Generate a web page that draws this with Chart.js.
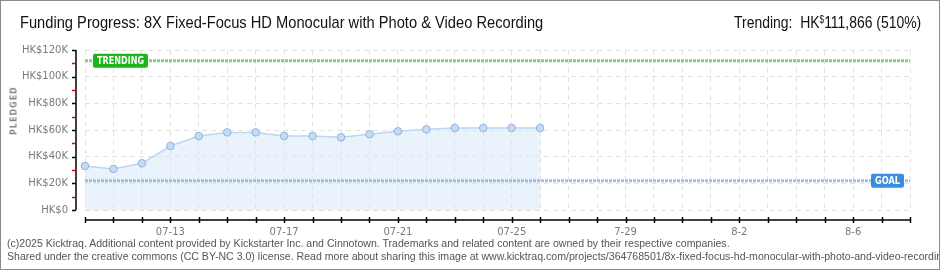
<!DOCTYPE html>
<html>
<head>
<meta charset="utf-8">
<script src="https://cdn.jsdelivr.net/npm/chart.js@4.4.1/dist/chart.umd.min.js"></script>
<style>
  html, body { margin: 0; padding: 0; background: #fff; }
  #wrap { position: relative; width: 940px; height: 270px; box-sizing: border-box; border: 1px solid #8a8a8a; overflow: hidden; }
  #chart { position: absolute; left: -1px; top: -1px; }
  .txt { position: absolute; white-space: nowrap; font-family: "Liberation Sans", sans-serif; }
  #title { left: 19px; top: 12px; font-size: 17px; color: #111; transform: scaleX(0.863); transform-origin: 0 50%; }
  #trend { right: 18px; top: 12px; font-size: 17px; color: #111; transform: scaleX(0.82); transform-origin: 100% 50%; }
  #trend sup { font-size: 10px; vertical-align: 5px; }
  #ylab { left: 4px; top: 125px; font-family: "DejaVu Sans", sans-serif; font-weight: bold; font-size: 8px; color: #888; letter-spacing: 1px; transform: translate(0, -50%) rotate(-90deg); transform-origin: 9px 50%; }
  .foot { left: 6px; font-size: 11px; color: #555; transform: scaleX(0.96); transform-origin: 0 50%; }
</style>
</head>
<body>
<div id="wrap">
  <canvas id="chart" width="940" height="270"></canvas>
  <div class="txt" id="title">Funding Progress: 8X Fixed-Focus HD Monocular with Photo &amp; Video Recording</div>
  <div class="txt" id="trend">Trending:&nbsp; HK<sup>$</sup>111,866 (510%)</div>
  <div class="txt" id="ylab">PLEDGED</div>
  <div class="txt foot" style="top:236px">(c)2025 Kicktraq. Additional content provided by Kickstarter Inc. and Cinnotown. Trademarks and related content are owned by their respective companies.</div>
  <div class="txt foot" style="top:249px">Shared under the creative commons (CC BY-NC 3.0) license. Read more about sharing this image at www.kicktraq.com/projects/364768501/8x-fixed-focus-hd-monocular-with-photo-and-video-recording/</div>
</div>
<script>
// --- data ---
const days = ["07-10","07-11","07-12","07-13","07-14","07-15","07-16","07-17","07-18","07-19",
              "07-20","07-21","07-22","07-23","07-24","07-25","07-26","07-27","07-28","7-29",
              "7-30","7-31","8-1","8-2","8-3","8-4","8-5","8-6","8-7","8-8"];
const shownTicks = ["07-13","07-17","07-21","07-25","7-29","8-2","8-6"];
const pledged = [33000, 30800, 35000, 48000, 55500, 58200, 58200, 55500, 55500, 54500,
                 56800, 59000, 60500, 61500, 61500, 61500, 61500];
const goal = 22000;
const trending = 111866;
const yTicks = [0, 20000, 40000, 60000, 80000, 100000, 120000];

const tickFont = { family: "DejaVu Sans", size: 10 };

// axis lines, tick marks and the TRENDING / GOAL tags
const decor = {
  id: "decor",
  afterDraw(chart) {
    const ctx = chart.ctx;
    const x = chart.scales.x, y = chart.scales.y;
    const area = chart.chartArea;
    ctx.save();
    // y axis
    const ax = area.left - 9;
    ctx.strokeStyle = "#000";
    ctx.lineWidth = 1.5;
    ctx.beginPath();
    ctx.moveTo(ax, y.getPixelForValue(120000));
    ctx.lineTo(ax, y.getPixelForValue(0));
    ctx.stroke();
    yTicks.forEach((v, i) => {
      const py = Math.round(y.getPixelForValue(v)) + 0.5;
      ctx.strokeStyle = "#000";
      ctx.beginPath(); ctx.moveTo(ax - 4, py); ctx.lineTo(ax, py); ctx.stroke();
      if (i < yTicks.length - 1) {
        const my = Math.round(y.getPixelForValue(v + 10000)) + 0.5;
        ctx.strokeStyle = "#e00000";
        ctx.beginPath(); ctx.moveTo(ax - 4, my); ctx.lineTo(ax, my); ctx.stroke();
      }
    });
    // x axis
    const ay = area.bottom + 10;
    ctx.strokeStyle = "#000";
    ctx.beginPath();
    ctx.moveTo(x.getPixelForValue(0), ay);
    ctx.lineTo(x.getPixelForValue(days.length - 1), ay);
    ctx.stroke();
    days.forEach((d, i) => {
      const px = Math.round(x.getPixelForValue(i)) + 0.5;
      ctx.beginPath(); ctx.moveTo(px, ay - 3); ctx.lineTo(px, ay + 3); ctx.stroke();
    });
    // tags
    const tag = (text, color, left, w, val) => {
      const ty = y.getPixelForValue(val);
      ctx.fillStyle = color;
      ctx.beginPath();
      ctx.roundRect(left, ty - 7, w, 14, 2);
      ctx.fill();
      ctx.fillStyle = "#fff";
      ctx.font = "bold 10px 'DejaVu Sans'";
      ctx.textBaseline = "middle";
      ctx.textAlign = "center";
      ctx.fillText(text, left + w / 2, ty + 0.5, w - 8);
    };
    tag("TRENDING", "#1db41d", x.getPixelForValue(0) + 8, 55, trending);
    tag("GOAL", "#3c8ddf", x.getPixelForValue(days.length - 1) - 39, 33, goal);
    ctx.restore();
  }
};

new Chart(document.getElementById("chart"), {
  type: "line",
  data: {
    labels: days,
    datasets: [
      {
        data: [{ x: days[0], y: trending }, { x: days[days.length - 1], y: trending }],
        borderColor: "#7fd37f", borderWidth: 3, borderDash: [3, 1],
        pointRadius: 0, fill: false, order: 0
      },
      {
        data: [{ x: days[0], y: goal }, { x: days[days.length - 1], y: goal }],
        borderColor: "#9cc0ea", borderWidth: 3, borderDash: [3, 1],
        pointRadius: 0, fill: false, order: 0
      },
      {
        data: pledged,
        borderColor: "#bcd6f3", borderWidth: 1.5,
        backgroundColor: "rgba(214,231,250,0.5)",
        fill: "origin",
        pointRadius: 3.8, pointBorderWidth: 1,
        pointBackgroundColor: "#c4dbf6", pointBorderColor: "#94b3d9",
        tension: 0, order: 1
      }
    ]
  },
  options: {
    animation: false,
    responsive: false,
    layout: { padding: { left: 0, top: 50, right: 30, bottom: 0 } },
    plugins: { legend: { display: false }, tooltip: { enabled: false } },
    scales: {
      x: {
        type: "category",
        offset: false,
        afterFit: s => { s.height = 60; },
        grid: { color: "#e2e2e2", drawTicks: false },
        border: { display: false, dash: [5, 4] },
        ticks: {
          autoSkip: false, maxRotation: 0, padding: 16,
          color: "#7a7a7a", font: tickFont,
          callback: function (v) { const l = days[v]; return shownTicks.includes(l) ? l : ""; }
        }
      },
      y: {
        min: 0, max: 120000,
        afterFit: s => { s.width = 85; },
        afterBuildTicks: s => { s.ticks = yTicks.map(v => ({ value: v })); },
        grid: { color: "#e2e2e2", drawTicks: false },
        border: { display: false, dash: [5, 4] },
        ticks: {
          padding: 17, color: "#7a7a7a", font: tickFont,
          callback: v => v === 0 ? "HK$0" : "HK$" + (v / 1000) + "K"
        }
      }
    }
  },
  plugins: [decor]
});
</script>
</body>
</html>
